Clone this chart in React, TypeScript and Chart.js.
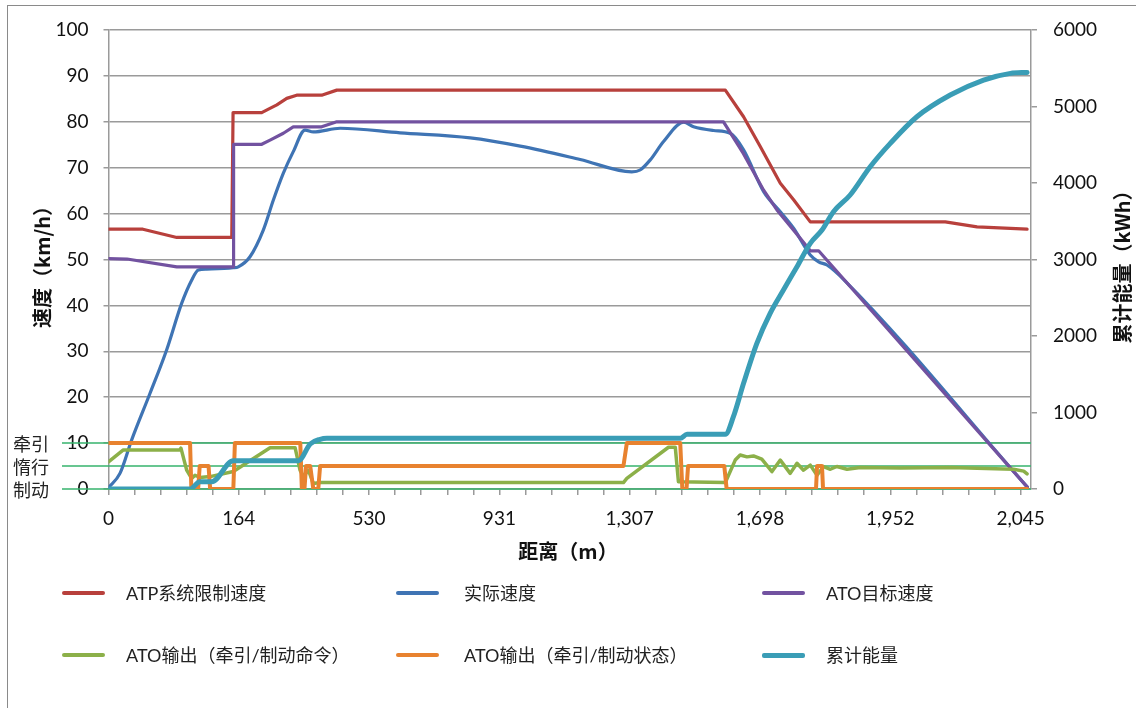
import React, { useEffect, useRef } from 'react';
import { Chart, registerables } from 'chart.js';

Chart.register(...registerables);

// ---------- data ----------
// x positions are in axis tick units (one labelled tick every 5 units)
const distanceTickLabels = ['0', '164', '530', '931', '1,307', '1,698', '1,952', '2,045'];
const modeLabels = ['牵引', '惰行', '制动'];
const modeLevels = [10, 5, 0];

const atpPos = [0, 1.32, 2.62, 4.73, 4.78, 5.88, 6.12, 6.46, 6.84, 7.22, 8.18, 8.76, 23.67, 24.37, 25.01, 25.78, 26.29, 26.93, 32.11, 33.33, 35.25];
const atpSpeed = [56.6, 56.6, 54.8, 54.8, 82.0, 82.0, 82.7, 83.7, 85.1, 85.8, 85.8, 86.9, 86.9, 81.1, 74.6, 66.6, 63.0, 58.2, 58.2, 57.1, 56.6];

const actualPos = [0, 0.44, 0.89, 1.59, 2.23, 2.81, 3.19, 3.45, 3.77, 4.78, 4.98, 5.43, 5.94, 6.33, 6.71, 7.09, 7.54, 7.86, 8.89, 11.19, 13.88, 15.8, 18.1, 20.08, 20.4, 20.79, 21.3, 22.07, 22.45, 23.22, 23.86, 24.37, 25.14, 25.78, 26.29, 26.93, 27.25, 27.57, 28.27, 35.26];
const actualSpeed = [0.3, 3.4, 10.7, 20.8, 30.3, 40.5, 45.5, 47.7, 47.9, 48.2, 48.4, 50.6, 56.4, 63.0, 68.8, 73.5, 78.2, 77.8, 78.6, 77.6, 76.5, 74.7, 71.8, 69.1, 69.5, 71.7, 75.7, 79.9, 78.9, 78.1, 77.5, 73.9, 64.8, 60.4, 56.8, 51.0, 49.5, 48.8, 45.3, 0.4];

const targetPos = [0, 0.71, 2.62, 4.78, 4.8, 5.88, 6.2, 6.71, 7.09, 8.18, 8.76, 23.6, 24.36, 25.14, 25.65, 26.29, 26.93, 27.25, 35.26];
const targetSpeed = [50.2, 50.1, 48.4, 48.4, 75.1, 75.1, 76.0, 77.5, 78.9, 78.9, 80.0, 80.0, 73.1, 65.1, 60.8, 56.4, 51.9, 51.9, 0.4];

const commandPos = [0, 0.57, 2.74, 2.78, 3.0, 3.19, 3.32, 3.51, 3.9, 4.79, 6.2, 7.16, 7.35, 7.48, 7.67, 7.86, 8.12, 19.76, 19.89, 21.49, 21.75, 21.87, 23.67, 24.05, 24.24, 24.5, 24.75, 25.07, 25.46, 25.78, 26.16, 26.42, 26.67, 26.93, 27.19, 27.44, 27.7, 27.95, 28.34, 28.85, 30.38, 32.3, 34.73, 35.12, 35.25];
const commandValue = [5.9, 8.5, 8.5, 8.9, 4.1, 2.3, 3.0, 2.5, 2.7, 3.8, 9.0, 9.0, 4.1, 2.7, 4.1, 1.2, 1.4, 1.4, 2.3, 9.1, 9.1, 1.6, 1.4, 6.3, 7.4, 7.0, 7.2, 6.5, 3.8, 6.3, 3.4, 5.6, 4.1, 5.2, 3.0, 4.9, 4.3, 4.9, 4.3, 4.7, 4.6, 4.7, 4.3, 3.9, 3.3];

const statusPos = [0, 3.13, 3.18, 3.44, 3.5, 3.84, 3.9, 4.79, 4.85, 7.36, 7.42, 7.52, 7.58, 7.74, 7.86, 8.05, 8.12, 19.76, 19.89, 21.94, 22.02, 22.18, 22.24, 23.63, 23.72, 27.15, 27.19, 27.38, 27.42, 35.25];
const statusValue = [10, 10, 0, 0, 5, 5, 0, 0, 10, 10, 0, 0, 5, 5, 0, 0, 5, 5, 10, 10, 0, 0, 5, 5, 0, 0, 5, 5, 0, 0];

const energyPos = [0, 3.13, 3.51, 3.96, 4.79, 7.29, 7.74, 8.12, 8.38, 21.94, 22.2, 23.67, 23.98, 24.37, 24.88, 25.39, 25.9, 26.42, 26.93, 27.38, 27.82, 28.46, 29.23, 30.0, 31.02, 32.3, 33.58, 34.61, 35.25];
const energyValue = [0, 0, 95, 95, 370, 370, 588, 650, 663, 663, 715, 715, 945, 1381, 1904, 2296, 2601, 2906, 3211, 3385, 3624, 3843, 4213, 4518, 4866, 5150, 5346, 5433, 5446];

const seriesNames = ['ATP系统限制速度', '实际速度', 'ATO目标速度', 'ATO输出（牵引/制动命令）', 'ATO输出（牵引/制动状态）', '累计能量'];
const seriesColors = ['#B8403C', '#3F74B4', '#7252A0', '#8CB049', '#E8822F', '#3A9DB6'];

// ---------- styling ----------
const FONT = "Lato, 'Noto Sans CJK SC', sans-serif";
const CJK = "'Noto Sans CJK SC', Lato, sans-serif";
const GRID = '#9a9a9a';

const toPoints = (xs: number[], ys: number[]) => xs.map((x, i) => ({ x, y: ys[i] }));

const overlayPlugin = {
  id: 'overlay',
  beforeDatasetsDraw(chart: any) {
    const { ctx, chartArea, scales } = chart;
    ctx.save();
    ctx.strokeStyle = '#36B36C';
    ctx.lineWidth = 1.5;
    modeLevels.forEach((v) => {
      const py = scales.y.getPixelForValue(v);
      ctx.beginPath();
      ctx.moveTo(62, py);
      ctx.lineTo(chartArea.right, py);
      ctx.stroke();
    });
    ctx.restore();
  },
  afterDraw(chart: any) {
    const { ctx, scales } = chart;
    ctx.save();
    ctx.fillStyle = '#222';
    ctx.textAlign = 'center';
    ctx.textBaseline = 'middle';
    ctx.font = `18px ${CJK}`;
    modeLevels.forEach((v, i) => {
      ctx.fillText(modeLabels[i], 31, scales.y.getPixelForValue(v) + 1.5);
    });
    // axis titles
    ctx.fillStyle = '#111';
    ctx.font = `bold 20px ${CJK}`;
    ctx.save();
    ctx.translate(42, 262);
    ctx.rotate(-Math.PI / 2);
    ctx.fillText('速度（km/h）', 0, 0);
    ctx.restore();
    ctx.save();
    ctx.translate(1122, 262);
    ctx.rotate(-Math.PI / 2);
    ctx.fillText('累计能量（kWh）', 0, 0);
    ctx.restore();
    ctx.font = `bold 20px ${CJK}`;
    ctx.fillText('距离（m）', 568, 551);
    ctx.restore();
  },
};

export default function App() {
  const canvasRef = useRef<HTMLCanvasElement | null>(null);

  useEffect(() => {
    if (!canvasRef.current) return;
    const widths = [3.2, 3.2, 3.2, 3.5, 4, 5];
    const data = [
      toPoints(atpPos, atpSpeed),
      toPoints(actualPos, actualSpeed),
      toPoints(targetPos, targetSpeed),
      toPoints(commandPos, commandValue),
      toPoints(statusPos, statusValue),
      toPoints(energyPos, energyValue),
    ];
    const smooth = [false, true, false, false, false, true];
    const chart = new Chart(canvasRef.current, {
      type: 'line',
      data: {
        datasets: data.map((d, i) => ({
          label: seriesNames[i],
          data: d,
          borderColor: seriesColors[i],
          backgroundColor: seriesColors[i],
          borderWidth: widths[i],
          pointRadius: 0,
          fill: false,
          tension: 0,
          cubicInterpolationMode: smooth[i] ? 'monotone' : 'default',
          borderJoinStyle: 'round',
          borderCapStyle: 'round',
          yAxisID: i === 5 ? 'y2' : 'y',
          order: 6 - i,
        })) as any,
      },
      options: {
        animation: false,
        responsive: false,
        maintainAspectRatio: false,
        layout: { padding: { top: 30, left: 0, right: 0, bottom: 0 } },
        plugins: {
          legend: { display: false },
          tooltip: { enabled: false },
        },
        scales: {
          x: {
            type: 'linear',
            min: 0,
            max: 35.4,
            afterFit: (s: any) => {
              s.height = 219;
            },
            grid: { drawOnChartArea: false, drawTicks: true, tickLength: 6, color: GRID, lineWidth: 1.5 },
            border: { display: true, color: GRID, width: 1.5 },
            ticks: {
              stepSize: 1,
              autoSkip: false,
              includeBounds: false,
              maxRotation: 0,
              minRotation: 0,
              padding: 12,
              color: '#111',
              font: { family: FONT, size: 19 },
              callback: (v: any) => {
                const n = Math.round(Number(v));
                return Math.abs(Number(v) - n) < 1e-6 && n % 5 === 0 ? distanceTickLabels[n / 5] : '';
              },
            },
          },
          y: {
            position: 'left',
            min: 0,
            max: 100,
            afterFit: (s: any) => {
              s.width = 108.5;
            },
            grid: { color: GRID, lineWidth: 1.5, tickLength: 5 },
            border: { display: true, color: GRID, width: 1.5 },
            ticks: { stepSize: 10, padding: 15, color: '#111', font: { family: FONT, size: 19 }, callback: (v: any) => String(v) },
          },
          y2: {
            position: 'right',
            min: 0,
            max: 6000,
            afterFit: (s: any) => {
              s.width = 105;
            },
            grid: { drawOnChartArea: false, color: GRID, lineWidth: 1.5, tickLength: 6 },
            border: { display: true, color: GRID, width: 1.5 },
            ticks: { stepSize: 1000, padding: 16, color: '#111', font: { family: FONT, size: 19 }, callback: (v: any) => String(v) },
          },
        },
      } as any,
      plugins: [overlayPlugin],
    });
    return () => chart.destroy();
  }, []);

  const colLine = [62, 396, 762];
  const colText = [126, 464, 826];
  const rowY = [593, 655];

  return (
    <div style={{ position: 'absolute', left: 0, top: 0, width: 1136, height: 708, overflow: 'hidden', background: '#fff' }}>
      <canvas ref={canvasRef} width={1136} height={708} style={{ position: 'absolute', left: 0, top: 0, width: 1136, height: 708 }} />
      <div style={{ position: 'absolute', left: 7, top: 5, width: 1160, height: 730, border: '1.5px solid #8a8a8a', boxSizing: 'border-box', pointerEvents: 'none' }} />
      {seriesNames.map((name, i) => {
        const row = Math.floor(i / 3);
        const col = i % 3;
        return (
          <React.Fragment key={name}>
            <div
              style={{
                position: 'absolute',
                left: colLine[col],
                top: rowY[row] - (i === 5 ? 2.5 : 2),
                width: 43,
                height: i === 5 ? 5 : 4,
                borderRadius: 2,
                background: seriesColors[i],
              }}
            />
            <div
              style={{
                position: 'absolute',
                left: colText[col],
                top: rowY[row] - 13,
                height: 26,
                lineHeight: '26px',
                fontFamily: FONT,
                fontSize: 18,
                color: '#222',
                whiteSpace: 'nowrap',
              }}
            >
              {name}
            </div>
          </React.Fragment>
        );
      })}
    </div>
  );
}
